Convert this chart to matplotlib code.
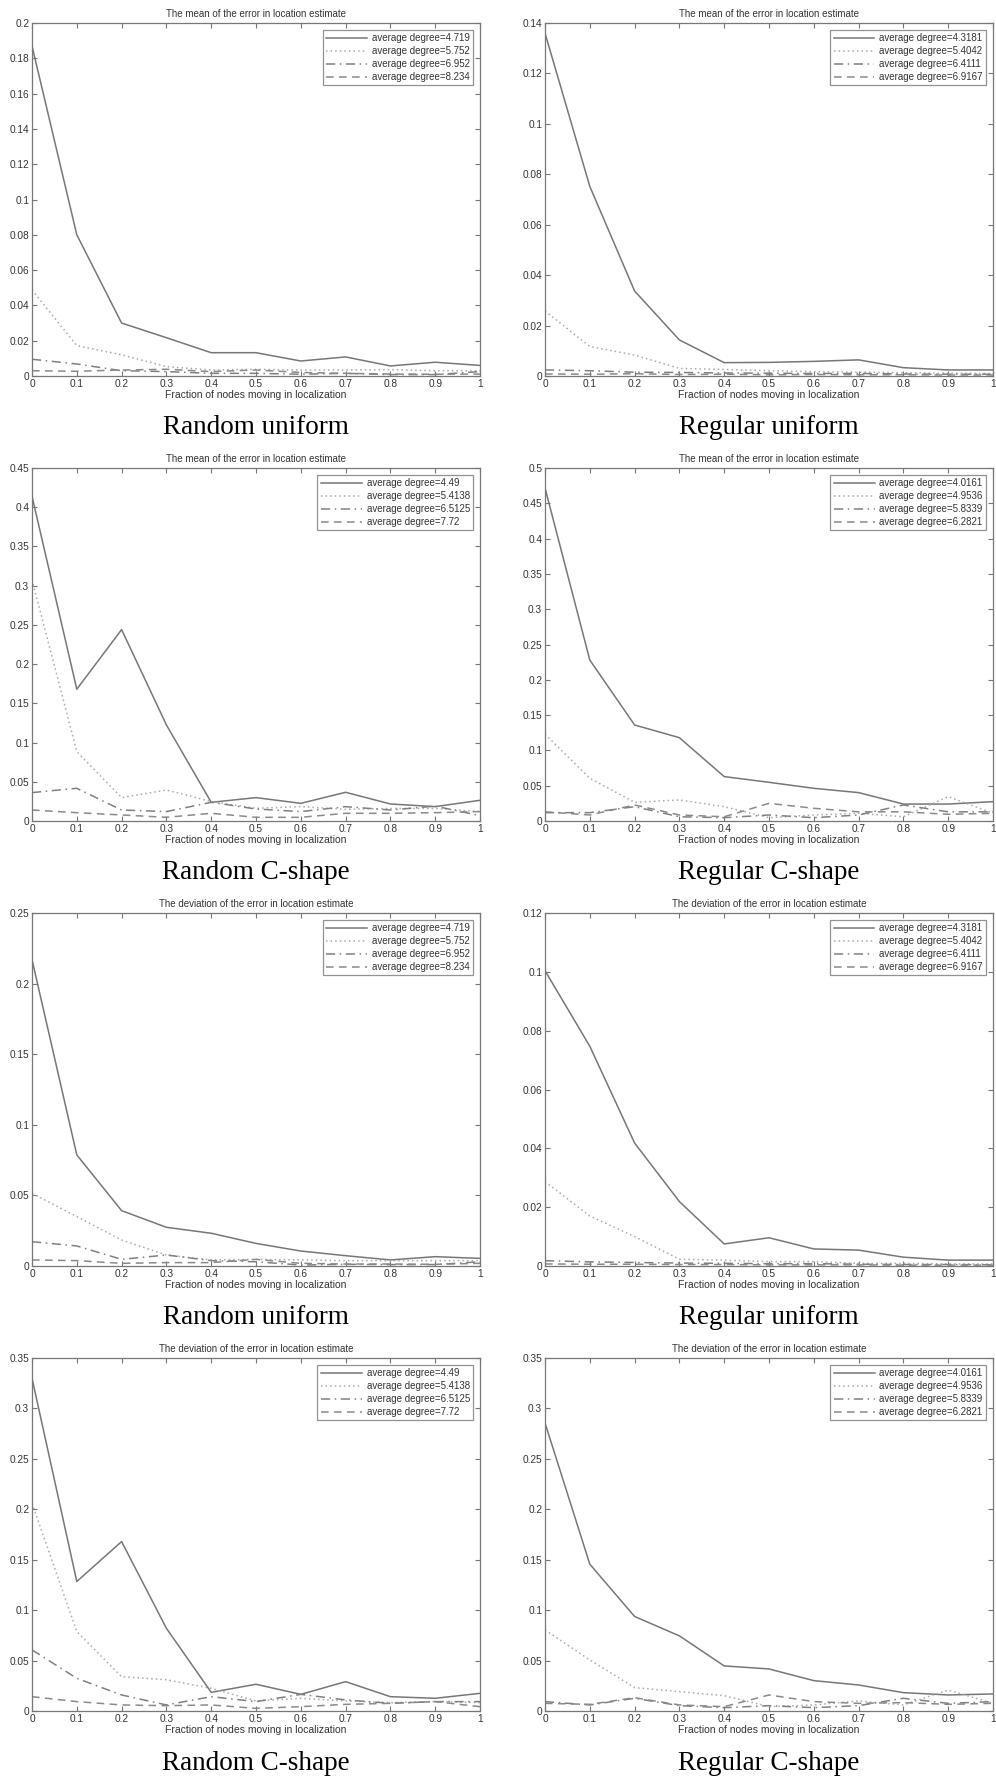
import matplotlib
matplotlib.use("Agg")
import matplotlib.pyplot as plt
from matplotlib.ticker import FormatStrFormatter, MultipleLocator

plt.rcParams['font.family'] = ['Liberation Sans', 'DejaVu Sans']

x = [0, 0.1, 0.2, 0.3, 0.4, 0.5, 0.6, 0.7, 0.8, 0.9, 1.0]

# legend degrees per layout
deg_rand_uni = ["4.719", "5.752", "6.952", "8.234"]
deg_reg_uni = ["4.3181", "5.4042", "6.4111", "6.9167"]
deg_rand_c = ["4.49", "5.4138", "6.5125", "7.72"]
deg_reg_c = ["4.0161", "4.9536", "5.8339", "6.2821"]

# mean error, random uniform
mean_ru_1 = [0.187, 0.080, 0.030, 0.0217, 0.0132, 0.0132, 0.0085, 0.0108, 0.0057, 0.0078, 0.0060]
mean_ru_2 = [0.0488, 0.0172, 0.0120, 0.0053, 0.0034, 0.0038, 0.0034, 0.0034, 0.0036, 0.0030, 0.0030]
mean_ru_3 = [0.0095, 0.0068, 0.0030, 0.0025, 0.0015, 0.0015, 0.0010, 0.0015, 0.0008, 0.0008, 0.0025]
mean_ru_4 = [0.0030, 0.0027, 0.0034, 0.0038, 0.0025, 0.0034, 0.0020, 0.0015, 0.0011, 0.0010, 0.0011]

# mean error, regular uniform
mean_gu_1 = [0.136, 0.0752, 0.0337, 0.0143, 0.0053, 0.0054, 0.0058, 0.0064, 0.0033, 0.0024, 0.0024]
mean_gu_2 = [0.0258, 0.0117, 0.0083, 0.0030, 0.0026, 0.0021, 0.0017, 0.0015, 0.0013, 0.0011, 0.0010]
mean_gu_3 = [0.0024, 0.0021, 0.0015, 0.0014, 0.0012, 0.0011, 0.0010, 0.0010, 0.0008, 0.0007, 0.0007]
mean_gu_4 = [0.0008, 0.0007, 0.0009, 0.0006, 0.0007, 0.0005, 0.0006, 0.0005, 0.0005, 0.0004, 0.0004]

# mean error, random C-shape
mean_rc_1 = [0.414, 0.168, 0.244, 0.1225, 0.0238, 0.0298, 0.0225, 0.0366, 0.0217, 0.0183, 0.0264]
mean_rc_2 = [0.3076, 0.0885, 0.0298, 0.0395, 0.0247, 0.0162, 0.0183, 0.0149, 0.0160, 0.0160, 0.0120]
mean_rc_3 = [0.0362, 0.0417, 0.0140, 0.0120, 0.0238, 0.0153, 0.0120, 0.0183, 0.0140, 0.0190, 0.0068]
mean_rc_4 = [0.0140, 0.0106, 0.0077, 0.0047, 0.0098, 0.0047, 0.0047, 0.0098, 0.0098, 0.0106, 0.0120]

# mean error, regular C-shape
mean_gc_1 = [0.4717, 0.228, 0.136, 0.118, 0.0629, 0.0548, 0.0463, 0.0402, 0.024, 0.024, 0.0274]
mean_gc_2 = [0.1229, 0.0605, 0.0265, 0.0298, 0.0203, 0.0047, 0.0085, 0.0109, 0.0060, 0.0345, 0.0110]
mean_gc_3 = [0.0118, 0.0118, 0.0203, 0.0060, 0.0047, 0.0085, 0.0047, 0.0085, 0.0227, 0.0130, 0.0130]
mean_gc_4 = [0.0130, 0.0085, 0.0227, 0.0085, 0.0060, 0.0250, 0.0180, 0.0130, 0.0130, 0.0095, 0.0109]

# deviation, random uniform
dev_ru_1 = [0.217, 0.0787, 0.0392, 0.0274, 0.0232, 0.0160, 0.0106, 0.0073, 0.0043, 0.0066, 0.0054]
dev_ru_2 = [0.0515, 0.0350, 0.0184, 0.0078, 0.0043, 0.0047, 0.0043, 0.0038, 0.0038, 0.0038, 0.0038]
dev_ru_3 = [0.0172, 0.0142, 0.0047, 0.0078, 0.0038, 0.0030, 0.0007, 0.0012, 0.0010, 0.0010, 0.0030]
dev_ru_4 = [0.0043, 0.0038, 0.0019, 0.0024, 0.0024, 0.0047, 0.0019, 0.0014, 0.0014, 0.0012, 0.0019]

# deviation, regular uniform
dev_gu_1 = [0.1004, 0.0747, 0.0418, 0.0219, 0.0075, 0.0096, 0.0058, 0.0054, 0.0030, 0.0020, 0.0020]
dev_gu_2 = [0.0287, 0.0170, 0.0100, 0.0023, 0.0020, 0.0015, 0.0015, 0.0009, 0.0009, 0.0007, 0.0007]
dev_gu_3 = [0.0018, 0.0014, 0.0012, 0.0010, 0.0009, 0.0008, 0.0008, 0.0006, 0.0005, 0.0005, 0.0004]
dev_gu_4 = [0.0007, 0.0006, 0.0006, 0.0005, 0.0005, 0.0004, 0.0004, 0.0004, 0.0003, 0.0003, 0.0003]

# deviation, random C-shape
dev_rc_1 = [0.330, 0.1284, 0.168, 0.082, 0.0185, 0.0265, 0.0165, 0.0291, 0.0142, 0.0126, 0.0175]
dev_rc_2 = [0.206, 0.0788, 0.034, 0.031, 0.0225, 0.0100, 0.0126, 0.0100, 0.0083, 0.0093, 0.0083]
dev_rc_3 = [0.0606, 0.0324, 0.0159, 0.0060, 0.0142, 0.0093, 0.0165, 0.0110, 0.0076, 0.0093, 0.0093]
dev_rc_4 = [0.0142, 0.0093, 0.0060, 0.0053, 0.0060, 0.0026, 0.0043, 0.0066, 0.0076, 0.0093, 0.0043]

# deviation, regular C-shape
dev_gc_1 = [0.2856, 0.1456, 0.0937, 0.0745, 0.0447, 0.0417, 0.0301, 0.0258, 0.0182, 0.0159, 0.0169]
dev_gc_2 = [0.0804, 0.0506, 0.0232, 0.0192, 0.0152, 0.0043, 0.0060, 0.0100, 0.0060, 0.0208, 0.0076]
dev_gc_3 = [0.0093, 0.0060, 0.0126, 0.0053, 0.0033, 0.0053, 0.0033, 0.0053, 0.0126, 0.0076, 0.0093]
dev_gc_4 = [0.0076, 0.0066, 0.0132, 0.0060, 0.0043, 0.0159, 0.0093, 0.0076, 0.0083, 0.0066, 0.0076]

mean_title = "The mean of the error in location estimate"
dev_title = "The deviation of the error in location estimate"
xlab = "Fraction of nodes moving in localization"

panels = [
    (mean_title, [mean_ru_1, mean_ru_2, mean_ru_3, mean_ru_4], deg_rand_uni, 0.2, 0.02, "Random uniform"),
    (mean_title, [mean_gu_1, mean_gu_2, mean_gu_3, mean_gu_4], deg_reg_uni, 0.14, 0.02, "Regular uniform"),
    (mean_title, [mean_rc_1, mean_rc_2, mean_rc_3, mean_rc_4], deg_rand_c, 0.45, 0.05, "Random C-shape"),
    (mean_title, [mean_gc_1, mean_gc_2, mean_gc_3, mean_gc_4], deg_reg_c, 0.5, 0.05, "Regular C-shape"),
    (dev_title, [dev_ru_1, dev_ru_2, dev_ru_3, dev_ru_4], deg_rand_uni, 0.25, 0.05, "Random uniform"),
    (dev_title, [dev_gu_1, dev_gu_2, dev_gu_3, dev_gu_4], deg_reg_uni, 0.12, 0.02, "Regular uniform"),
    (dev_title, [dev_rc_1, dev_rc_2, dev_rc_3, dev_rc_4], deg_rand_c, 0.35, 0.05, "Random C-shape"),
    (dev_title, [dev_gc_1, dev_gc_2, dev_gc_3, dev_gc_4], deg_reg_c, 0.35, 0.05, "Regular C-shape"),
]

styles = ['-', ':', '-.', '--']
dash_seq = [None, (0, (1, 2)), (0, (6, 3, 1, 3)), (0, (5, 3.5))]
colors = ['#777777', '#aaaaaa', '#808080', '#8a8a8a']

W, H = 996, 1782
fig = plt.figure(figsize=(W / 100, H / 100), dpi=100)

lefts = [32, 545]
tops = [23, 468, 913, 1358]
aw, ah = 448, 353

for i, (title, series, degs, ymax, ystep, caption) in enumerate(panels):
    r, c = divmod(i, 2)
    l, t = lefts[c], tops[r]
    ax = fig.add_axes([l / W, 1 - (t + ah) / H, aw / W, ah / H])
    for s, ls, dsh, col, d in zip(series, styles, dash_seq, colors, degs):
        ax.plot(x, s, linestyle=dsh if dsh else ls, color=col, lw=1.1,
                label="average degree=" + d)
    ax.set_xlim(0, 1)
    ax.set_ylim(0, ymax)
    ax.xaxis.set_major_locator(MultipleLocator(0.1))
    ax.yaxis.set_major_locator(MultipleLocator(ystep))
    ax.xaxis.set_major_formatter(FormatStrFormatter('%g'))
    ax.yaxis.set_major_formatter(FormatStrFormatter('%g'))
    ax.tick_params(direction='in', length=3.5, width=0.8, top=True, right=True,
                   labelsize=7.3, colors='#777777', labelcolor='#333333', pad=2)
    for sp in ax.spines.values():
        sp.set_color('#777777')
        sp.set_linewidth(0.9)
    ax.set_title(title, fontsize=7, color='#333333', pad=4)
    ax.set_xlabel(xlab, fontsize=7.5, color='#333333', labelpad=1)
    leg = ax.legend(loc='upper right', fontsize=7, frameon=True, fancybox=False,
                    handlelength=4.2, handletextpad=0.5, labelspacing=0.3,
                    borderpad=0.35, borderaxespad=0.7, markerfirst=True)
    leg.get_frame().set_edgecolor('#777777')
    leg.get_frame().set_linewidth(0.9)
    for tx in leg.get_texts():
        tx.set_color('#333333')
    fig.text((l + aw / 2) / W, 1 - (t + 405) / H, caption, ha='center', va='center',
             fontsize=19.5, family='Liberation Serif', color='black')

fig.savefig("out.png", dpi=100)
